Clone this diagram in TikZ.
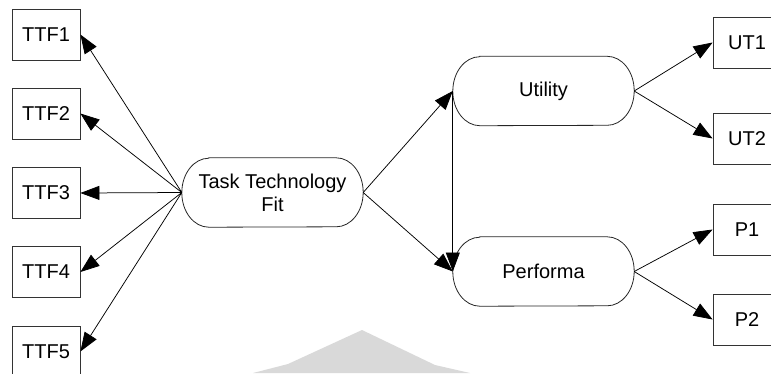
\documentclass[tikz,border=0pt]{standalone}
\usepackage{fontspec}
\setmainfont{Liberation Sans}
\usetikzlibrary{arrows.meta}
\definecolor{wmgray}{HTML}{D9D9D9}
\tikzset{
  every node/.style={font=\fontsize{20}{23}\selectfont, align=center},
  itembox/.style={draw=black!80, line width=0.8pt, minimum width=68pt, minimum height=51pt, inner sep=0pt},
  pill/.style={minimum width=181pt, minimum height=69pt, inner sep=0pt},
  pilloutline/.style={draw=black!85, line width=0.8pt},
  arr/.style={draw=black, line width=0.75pt, -{Triangle[length=19pt,width=14pt]}}
}
% outline of a terminator-shaped node with elliptical ends
\newcommand{\pillpath}[1]{%
  \draw[pilloutline] ([xshift=27pt]#1.north west) -- ([xshift=-27pt]#1.north east)
    arc[start angle=90, end angle=-90, x radius=27pt, y radius=34.5pt]
    -- ([xshift=27pt]#1.south west)
    arc[start angle=270, end angle=90, x radius=27pt, y radius=34.5pt] -- cycle;}
\begin{document}
\begin{tikzpicture}[x=1pt, y=-1pt]
\useasboundingbox (0,0) rectangle (771,373);

% grey background shape along the bottom edge
\fill[wmgray] (253,373) -- (288,364) -- (362,330) -- (435,365) -- (470,373) -- cycle;

% indicator boxes, left column
\node[itembox] (t1) at (46,34.5) {TTF1};
\node[itembox] (t2) at (46,113.5) {TTF2};
\node[itembox] (t3) at (46,193) {TTF3};
\node[itembox] (t4) at (46,272) {TTF4};
\node[itembox] (t5) at (46,351.5) {TTF5};

% indicator boxes, right column
\node[itembox] (u1) at (747,42.5) {UT1};
\node[itembox] (u2) at (747,138.5) {UT2};
\node[itembox] (p1) at (747,229.5) {P1};
\node[itembox] (p2) at (747,319.5) {P2};

% constructs
\node[pill] (tf) at (272.5,192.5) {Task Technology\\Fit};
\node[pill] (ut) at (543.5,91) {Utility};
\node[pill] (pf) at (543.5,271.5) {Performa};
\pillpath{tf}
\pillpath{ut}
\pillpath{pf}

% connectors
\foreach \t in {t1,t2,t3,t4,t5} \draw[arr] (tf.west) -- (\t.east);
\draw[arr] (tf.east) -- (ut.west);
\draw[arr] (tf.east) -- (pf.west);
\draw[arr] (ut.west) -- (pf.west);
\draw[arr] (ut.east) -- (u1.west);
\draw[arr] (ut.east) -- (u2.west);
\draw[arr] (pf.east) -- (p1.west);
\draw[arr] (pf.east) -- (p2.west);
\end{tikzpicture}
\end{document}
